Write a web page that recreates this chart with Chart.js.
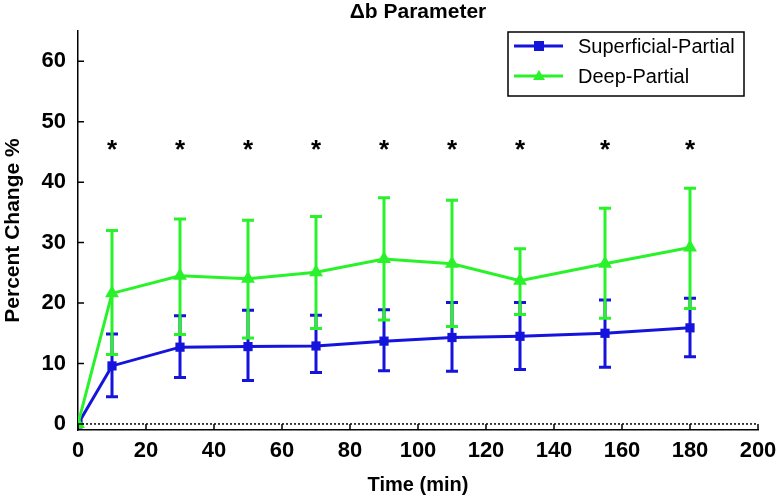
<!DOCTYPE html>
<html>
<head>
<meta charset="utf-8">
<script src="https://cdn.jsdelivr.net/npm/chart.js@4/dist/chart.umd.min.js"></script>
<style>
  body { margin: 0; background: #fff; }
  #wrap { width: 780px; height: 500px; }
</style>
</head>
<body>
<div id="wrap"><canvas id="paramChart" width="780" height="500"></canvas></div>
<script>
// time points (min)
const times = [0, 10, 30, 50, 70, 90, 110, 130, 155, 180];

// Superficial-Partial: mean and error bar ends
const supMean = [0, 9.6, 12.7, 12.8, 12.9, 13.7, 14.3, 14.5, 15.0, 15.9];
const supHigh = [0, 14.9, 17.9, 18.8, 18.0, 18.9, 20.1, 20.1, 20.5, 20.8];
const supLow  = [0, 4.5, 7.7, 7.2, 8.5, 8.8, 8.7, 9.0, 9.4, 11.1];

// Deep-Partial
const deepMean = [0, 21.6, 24.5, 24.0, 25.1, 27.3, 26.5, 23.7, 26.5, 29.2];
const deepHigh = [0, 32.0, 33.9, 33.7, 34.3, 37.4, 37.0, 29.0, 35.7, 39.0];
const deepLow  = [0, 11.5, 14.8, 14.2, 15.8, 17.2, 16.1, 18.1, 17.5, 19.1];

// significance markers
const starTimes = [10, 30, 50, 70, 90, 110, 130, 155, 180];
const starLevel = 46;

const xTicks = [0, 20, 40, 60, 80, 100, 120, 140, 160, 180, 200];
const yTicks = [0, 10, 20, 30, 40, 50, 60];

const BLUE = '#1414dc';
const GREEN = '#2af22a';
const FONT = '"Liberation Sans", Arial, sans-serif';

function toPoints(xs, ys) {
    return xs.map((x, i) => ({ x: x, y: ys[i] }));
}

const errorBars = {
    id: 'errorBars',
    afterDatasetDraw(chart, args) {
        const ds = chart.data.datasets[args.index];
        if (!ds.errHigh) return;
        const xs = chart.scales.x, ys = chart.scales.y;
        const c = chart.ctx;
        c.save();
        c.strokeStyle = ds.borderColor;
        c.lineWidth = 3;
        times.forEach((t, i) => {
            if (ds.errHigh[i] === ds.errLow[i]) return;
            const px = xs.getPixelForValue(t);
            const hi = ys.getPixelForValue(ds.errHigh[i]);
            const lo = ys.getPixelForValue(ds.errLow[i]);
            c.beginPath();
            c.moveTo(px, hi); c.lineTo(px, lo);
            c.moveTo(px - 6, hi); c.lineTo(px + 6, hi);
            c.moveTo(px - 6, lo); c.lineTo(px + 6, lo);
            c.stroke();
        });
        c.restore();
    }
};

const decorations = {
    id: 'decorations',
    beforeDatasetsDraw(chart) {
        const xs = chart.scales.x, ys = chart.scales.y;
        const c = chart.ctx;
        const y0 = ys.getPixelForValue(0);
        c.save();
        c.strokeStyle = '#000';
        c.lineWidth = 1.5;
        c.setLineDash([2, 2]);
        c.beginPath();
        c.moveTo(xs.getPixelForValue(0), y0);
        c.lineTo(xs.getPixelForValue(200), y0);
        c.stroke();
        c.restore();
    },
    afterDraw(chart) {
        const xs = chart.scales.x, ys = chart.scales.y;
        const area = chart.chartArea;
        const c = chart.ctx;
        c.save();
        // inward tick marks
        c.strokeStyle = '#000';
        c.lineWidth = 1.5;
        c.beginPath();
        xTicks.forEach(v => {
            const px = xs.getPixelForValue(v);
            c.moveTo(px, area.bottom); c.lineTo(px, area.bottom - 6);
        });
        yTicks.forEach(v => {
            const py = ys.getPixelForValue(v);
            c.moveTo(area.left, py); c.lineTo(area.left + 6, py);
        });
        c.stroke();

        // asterisks
        c.fillStyle = '#000';
        c.font = 'bold 26px ' + FONT;
        c.textAlign = 'center';
        c.textBaseline = 'alphabetic';
        starTimes.forEach(t => {
            c.fillText('*', xs.getPixelForValue(t), ys.getPixelForValue(starLevel) + 12);
        });

        // title
        c.font = 'bold 21px ' + FONT;
        c.textBaseline = 'middle';
        c.fillText('\u0394b Parameter', (area.left + area.right) / 2, 12);

        // legend box
        const bx = area.right - 250, by = area.top + 1, bw = 236, bh = 64;
        c.fillStyle = '#fff';
        c.fillRect(bx, by, bw, bh);
        c.strokeStyle = '#000';
        c.lineWidth = 1.5;
        c.strokeRect(bx, by, bw, bh);
        chart.data.datasets.forEach((ds, i) => {
            const ly = by + 14 + i * 30;
            c.strokeStyle = ds.borderColor;
            c.fillStyle = ds.borderColor;
            c.lineWidth = 3;
            c.beginPath();
            c.moveTo(bx + 6, ly); c.lineTo(bx + 55, ly);
            c.stroke();
            const mx = bx + 31;
            if (ds.pointStyle === 'rect') {
                c.fillRect(mx - 5, ly - 5, 10, 10);
            } else {
                c.beginPath();
                c.moveTo(mx, ly - 6); c.lineTo(mx + 6, ly + 4); c.lineTo(mx - 6, ly + 4);
                c.closePath(); c.fill();
            }
            c.fillStyle = '#000';
            c.font = '20px ' + FONT;
            c.textAlign = 'left';
            c.textBaseline = 'middle';
            c.fillText(ds.label, bx + 70, ly + 1);
        });
        c.restore();
    }
};

new Chart(document.getElementById('paramChart'), {
    type: 'line',
    data: {
        datasets: [
            {
                label: 'Superficial-Partial',
                data: toPoints(times, supMean),
                errHigh: supHigh,
                errLow: supLow,
                borderColor: BLUE,
                backgroundColor: BLUE,
                borderWidth: 3,
                pointStyle: 'rect',
                pointRadius: 6.5,
                pointBorderWidth: 0,
                order: 2
            },
            {
                label: 'Deep-Partial',
                data: toPoints(times, deepMean),
                errHigh: deepHigh,
                errLow: deepLow,
                borderColor: GREEN,
                backgroundColor: GREEN,
                borderWidth: 3,
                pointStyle: 'triangle',
                pointRadius: 8,
                pointBorderWidth: 0,
                order: 1
            }
        ]
    },
    options: {
        responsive: false,
        animation: false,
        layout: { padding: { top: 31, right: 22, left: 0, bottom: 0 } },
        plugins: {
            legend: { display: false },
            tooltip: { enabled: false }
        },
        scales: {
            x: {
                type: 'linear',
                min: 0,
                max: 200,
                afterBuildTicks: s => { s.ticks = xTicks.map(v => ({ value: v })); },
                afterFit: s => { s.height = 70; s.paddingLeft = 0; s.paddingRight = 0; },
                grid: { display: false, drawTicks: false },
                border: { display: true, color: '#000', width: 1.5 },
                ticks: { color: '#000', padding: 8, maxRotation: 0, font: { family: FONT, size: 22, weight: 'bold' } },
                title: { display: true, text: 'Time (min)', color: '#000', padding: { top: 0, bottom: 3 }, font: { family: FONT, size: 20, weight: 'bold' } }
            },
            y: {
                min: -1,
                max: 65,
                afterBuildTicks: s => { s.ticks = yTicks.map(v => ({ value: v })); },
                afterFit: s => { s.width = 78; s.paddingTop = 0; s.paddingBottom = 0; },
                grid: { display: false, drawTicks: false },
                border: { display: true, color: '#000', width: 1.5 },
                ticks: { color: '#000', padding: 12, font: { family: FONT, size: 22, weight: 'bold' } },
                title: { display: true, text: 'Percent Change %', color: '#000', padding: { top: 1, bottom: 0 }, font: { family: FONT, size: 21, weight: 'bold' } }
            }
        }
    },
    plugins: [errorBars, decorations]
});
</script>
</body>
</html>
